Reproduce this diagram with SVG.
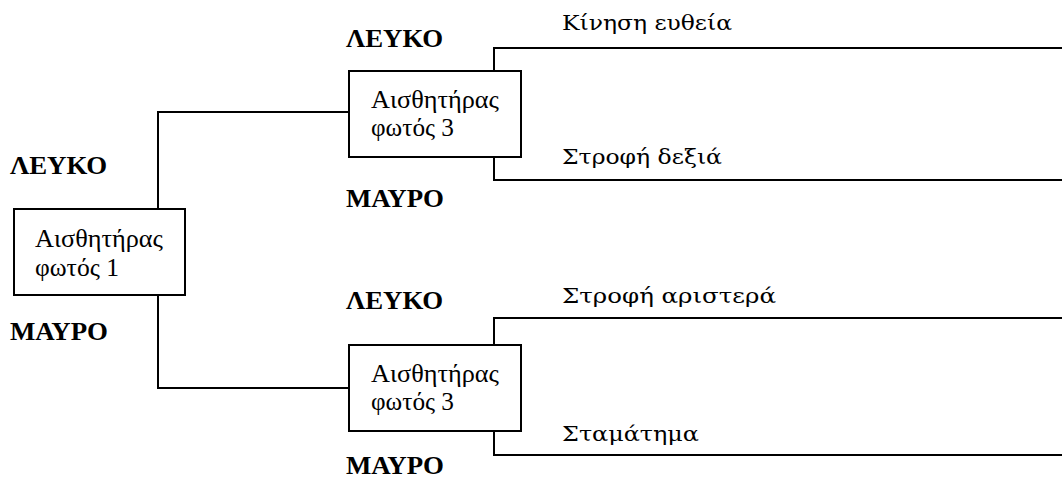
<svg xmlns="http://www.w3.org/2000/svg" width="1062" height="485" viewBox="0 0 1062 485">
  <style>
    .box { fill: #ffffff; stroke: #000000; stroke-width: 2; }
    .wire { fill: none; stroke: #000000; stroke-width: 2; }
    .node-text { font-family: 'Liberation Serif', 'Times New Roman', serif; font-size: 25px; fill: #000000; }
    .state { font-family: 'Liberation Serif', 'Times New Roman', serif; font-size: 26px; font-weight: bold; fill: #000000; }
    .action { font-family: 'DejaVu Serif', serif; font-size: 21px; fill: #000000; }
  </style>
  <rect width="1062" height="485" fill="#ffffff"/>

  <!-- connectors -->
  <g id="connectors" class="wire">
    <polyline points="349,112 158,112 158,209"/>
    <polyline points="158,295 158,388 349,388"/>
    <polyline points="1062,48 494,48 494,71"/>
    <polyline points="494,157 494,180 1062,180"/>
    <polyline points="1062,318 494,318 494,345"/>
    <polyline points="494,431 494,455 1062,455"/>
  </g>

  <!-- light sensor 1 -->
  <g id="sensor1">
    <rect class="box" x="14" y="209" width="171" height="86"/>
    <text class="node-text" x="35" y="247" textLength="128" lengthAdjust="spacingAndGlyphs">Αισθητήρας</text>
    <text class="node-text" x="35" y="276" textLength="84" lengthAdjust="spacingAndGlyphs">φωτός 1</text>
  </g>

  <!-- light sensor 3 (upper branch) -->
  <g id="sensor3-upper">
    <rect class="box" x="349" y="71" width="172" height="86"/>
    <text class="node-text" x="371" y="108" textLength="128" lengthAdjust="spacingAndGlyphs">Αισθητήρας</text>
    <text class="node-text" x="371" y="136" textLength="83" lengthAdjust="spacingAndGlyphs">φωτός 3</text>
  </g>

  <!-- light sensor 3 (lower branch) -->
  <g id="sensor3-lower">
    <rect class="box" x="349" y="345" width="172" height="86"/>
    <text class="node-text" x="371" y="382" textLength="128" lengthAdjust="spacingAndGlyphs">Αισθητήρας</text>
    <text class="node-text" x="371" y="410" textLength="83" lengthAdjust="spacingAndGlyphs">φωτός 3</text>
  </g>

  <!-- branch conditions -->
  <g id="conditions">
    <text class="state" x="10" y="174" textLength="97" lengthAdjust="spacingAndGlyphs">ΛΕΥΚΟ</text>
    <text class="state" x="10" y="340" textLength="98" lengthAdjust="spacingAndGlyphs">ΜΑΥΡΟ</text>
    <text class="state" x="346" y="47" textLength="97" lengthAdjust="spacingAndGlyphs">ΛΕΥΚΟ</text>
    <text class="state" x="346" y="207" textLength="98" lengthAdjust="spacingAndGlyphs">ΜΑΥΡΟ</text>
    <text class="state" x="346" y="309" textLength="97" lengthAdjust="spacingAndGlyphs">ΛΕΥΚΟ</text>
    <text class="state" x="346" y="474" textLength="98" lengthAdjust="spacingAndGlyphs">ΜΑΥΡΟ</text>
  </g>

  <!-- resulting actions -->
  <g id="actions">
    <text class="action" x="562" y="30" textLength="170" lengthAdjust="spacingAndGlyphs">Κίνηση ευθεία</text>
    <text class="action" x="562" y="164" textLength="160" lengthAdjust="spacingAndGlyphs">Στροφή δεξιά</text>
    <text class="action" x="562" y="303" textLength="214" lengthAdjust="spacingAndGlyphs">Στροφή αριστερά</text>
    <text class="action" x="562" y="441" textLength="137" lengthAdjust="spacingAndGlyphs">Σταμάτημα</text>
  </g>
</svg>
